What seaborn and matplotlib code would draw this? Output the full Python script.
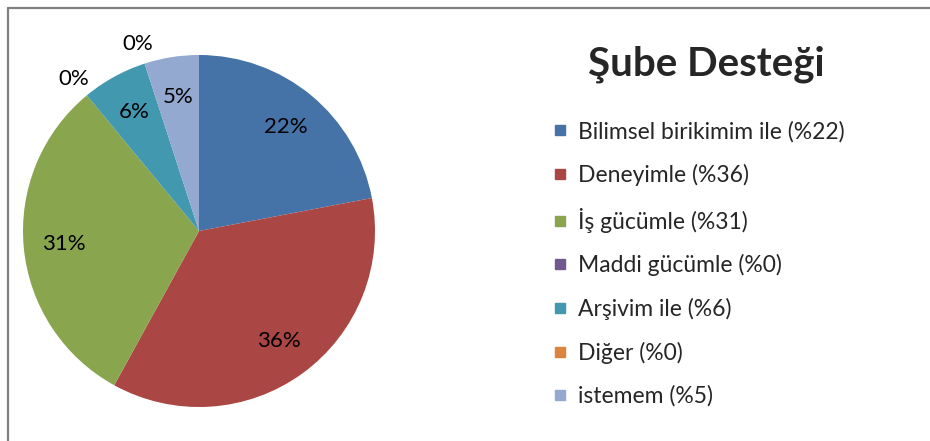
import matplotlib
matplotlib.use("Agg")
import matplotlib.pyplot as plt
import seaborn as sns
import numpy as np
from matplotlib.lines import Line2D

sns.set_style("white")
plt.rcParams['font.family'] = ['Lato', 'DejaVu Sans']

title = "Şube Desteği"
categories = ["Bilimsel birikimim ile (%22)", "Deneyimle (%36)", "İş gücümle (%31)",
              "Maddi gücümle (%0)", "Arşivim ile (%6)", "Diğer (%0)", "istemem (%5)"]
values = [22, 36, 31, 0, 6, 0, 5]
colors = ["#4572A7", "#AA4643", "#89A54E", "#71588F", "#4198AF", "#DB843D", "#93A9CF"]

W, H = 930, 441
fig = plt.figure(figsize=(W / 100, H / 100), dpi=100)
fig.patch.set_facecolor("white")

cx, cy, r = 199, 231, 176
ax = fig.add_axes([(cx - r) / W, (H - cy - r) / H, 2 * r / W, 2 * r / H])

wedges, texts, autotexts = ax.pie(values, colors=colors, startangle=90, counterclock=False,
                                  autopct=lambda p: f"{p:.0f}%", pctdistance=0.77,
                                  radius=1, wedgeprops=dict(linewidth=0),
                                  textprops=dict(fontsize=16, color="black"))
total = sum(values)
cum = 0
for v, t in zip(values, autotexts):
    mid = 90 - (cum + v / 2) / total * 360
    cum += v
    if v == 0:
        d = 1.12
        t.set_position((d * np.cos(np.radians(mid)), d * np.sin(np.radians(mid))))
ax.set_xlim(-1, 1)
ax.set_ylim(-1, 1)
ax.set_aspect("equal")
ax.axis("off")

fig.text(706 / W, 1 - 64 / H, title, fontsize=29, fontweight="bold", ha="center", va="center")

handles = [Line2D([], [], marker="s", linestyle="none", markersize=7.5,
                  markerfacecolor=c, markeredgecolor=c) for c in colors]
fig.legend(handles, categories, loc="upper left", bbox_to_anchor=(550 / W, 1 - 121 / H),
           frameon=False, fontsize=16.5, labelspacing=0.94, handlelength=0.85,
           handletextpad=0.35, borderpad=0, borderaxespad=0)

border = dict(color="#808080", linewidth=1.6)
fig.add_artist(Line2D([7.5 / W, 1], [1 - 7.5 / H, 1 - 7.5 / H], transform=fig.transFigure, **border))
fig.add_artist(Line2D([7.5 / W, 7.5 / W], [0, 1 - 7.5 / H], transform=fig.transFigure, **border))

fig.savefig("out.png", dpi=100)
